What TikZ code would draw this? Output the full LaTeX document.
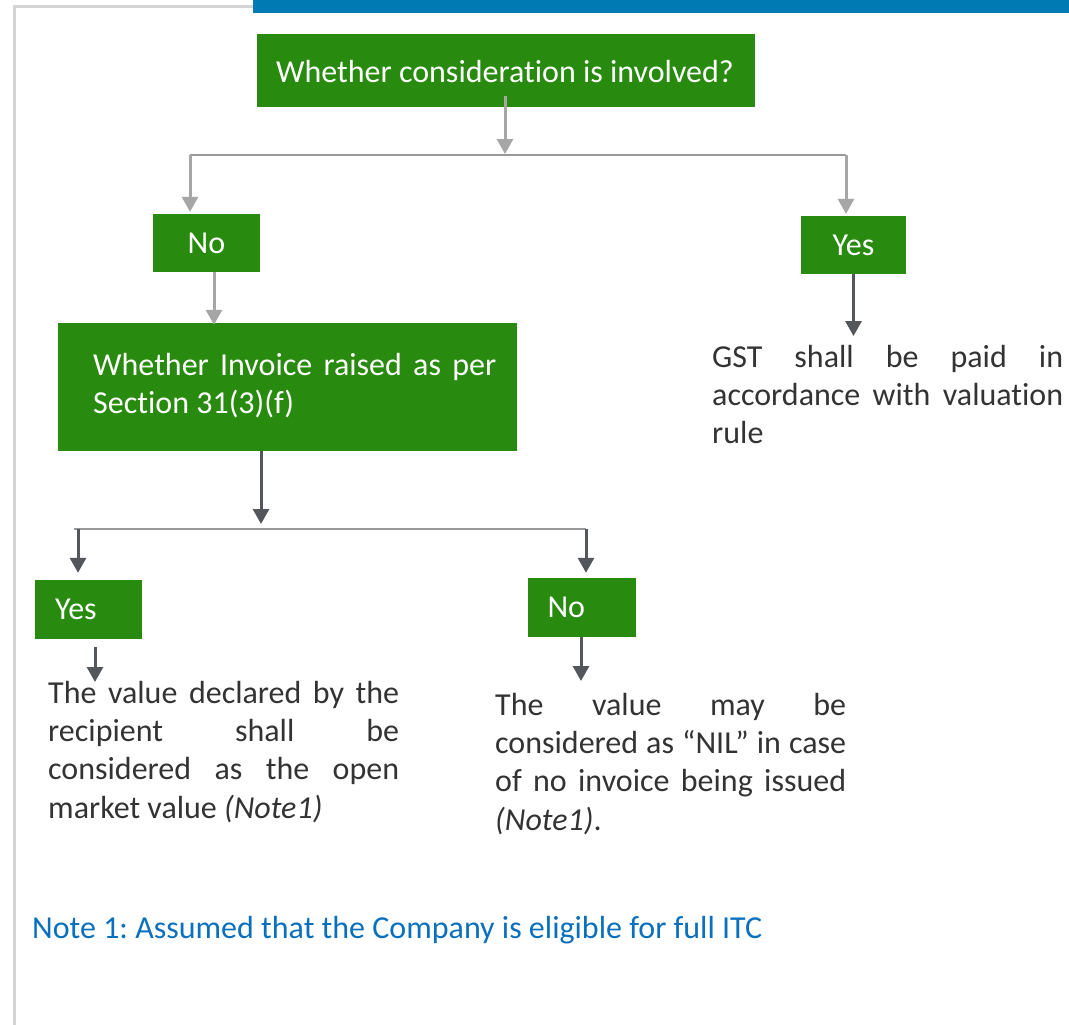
\documentclass[tikz,border=0pt]{standalone}
\usepackage{fontspec}
\setmainfont{Carlito}[Ligatures=NoCommon]
\usetikzlibrary{arrows.meta}

\definecolor{boxgreen}{HTML}{288A0F}
\definecolor{barblue}{HTML}{007AB3}
\definecolor{noteblue}{HTML}{0A70BE}
\definecolor{framegray}{HTML}{D4D4D4}
\definecolor{lightarrow}{HTML}{A6A6A6}
\definecolor{branchgray}{HTML}{999999}
\definecolor{darkarrow}{HTML}{53565A}
\definecolor{bodytext}{HTML}{333333}

% justified paragraph whose anchor "base" is the first baseline
\newcommand{\flowpara}[2]{\parbox[t]{#1}{\hyphenpenalty=10000\exhyphenpenalty=10000\tolerance=10000\emergencystretch=20pt #2}}

\begin{document}
\frenchspacing
\begin{tikzpicture}[x=1pt,y=-1pt,
  basefont/.style={font=\fontsize{32}{38.4}\selectfont},
  box/.style={fill=boxgreen, text=white, inner sep=0pt, basefont},
  bodypara/.style={text=bodytext, inner sep=0pt, anchor=base west, basefont},
  lightflow/.style={draw=lightarrow, line width=3pt, -{Triangle[width=16pt,length=15pt]}},
  darkflow/.style={draw=darkarrow, line width=3pt, -{Triangle[width=16pt,length=15pt]}},
  branch/.style={draw=branchgray, line width=2pt},
]
\useasboundingbox (0,0) rectangle (1069,1025);

% page frame and header bar
\fill[barblue] (253,0) rectangle (1069,13);
\draw[framegray, line width=3pt] (14.5,1025) -- (14.5,6.5) -- (253,6.5);

% first decision
\node[box, minimum width=498pt, minimum height=73pt] (q1) at (506,70.5) {};
\node[text=white, inner sep=0pt, anchor=base, basefont] (q1t) at (505,82)
  {Whether consideration is involved?};

\coordinate (j1)  at (505,155);
\coordinate (j1l) at (190,155);
\coordinate (j1r) at (846,155);
\draw[branch] (j1l) -- (j1r);

\node[box, minimum width=107pt, minimum height=58pt] (no1) at (206.5,243) {No};
\node[box, minimum width=105pt, minimum height=58pt] (yes1) at (853.5,245) {Yes};

\draw[lightflow] ([yshift=11pt]q1.south -| j1) -- ([yshift=1pt]j1);
\draw[lightflow] (j1l) -- ([yshift=2pt]no1.north -| j1l);
\draw[lightflow] (j1r) -- ([yshift=2pt]yes1.north -| j1r);

% second decision
\node[box, minimum width=459pt, minimum height=128pt] (q2) at (287.5,387) {};
\node[text=white, inner sep=0pt, anchor=base west, basefont] (q2t) at (93,375)
  {\flowpara{403pt}{Whether Invoice raised as per\linebreak Section 31(3)(f)}};

\draw[lightflow] ([xshift=7.5pt]no1.south) -- ([xshift=7.5pt,yshift=-2pt]no1.south |- q2.north);

\coordinate (j2)  at (261,529);
\coordinate (j2l) at (74,529);
\coordinate (j2a) at (78,529);
\coordinate (j2r) at (586,529);
\draw[branch] (j2l) -- (j2r);
\draw[darkflow] (q2.south -| j2) -- ([yshift=5pt]j2);

\node[box, minimum width=107pt, minimum height=59pt, text width=67pt, inner xsep=20pt, align=left]
  (yes2) at (88.5,609.5) {Yes};
\node[box, minimum width=107pt, minimum height=59pt, text width=68pt, inner xsep=20pt, align=left]
  (no2) at (581.5,607.5) {No};

\draw[darkflow] (j2a) -- ([yshift=7pt]yes2.north -| j2a);
\draw[darkflow] (j2r) -- ([yshift=5pt]no2.north -| j2r);

% outcomes
\node[bodypara] (gst) at (712,367)
  {\flowpara{351pt}{GST shall be paid in\linebreak accordance with valuation\linebreak rule}};
\node[bodypara] (omv) at (48,703)
  {\flowpara{351pt}{The value declared by the\linebreak recipient shall be\linebreak considered as the open\linebreak market value \textit{(Note1)}}};
\node[bodypara] (nil) at (495,715)
  {\flowpara{351pt}{The value may be\linebreak considered as “NIL” in case\linebreak of no invoice being issued\linebreak \textit{(Note1)}.}};

\draw[darkflow] (yes1.south) -- ([yshift=31pt]gst.base -| yes1.south);
\draw[darkflow] ([xshift=6.5pt,yshift=-8pt]yes2.south) -- ([xshift=6.5pt,yshift=21pt]omv.base -| yes2.south);
\draw[darkflow] ([xshift=-0.5pt]no2.south) -- ([xshift=-0.5pt,yshift=34pt]nil.base -| no2.south);

% footnote
\node[text=noteblue, inner sep=0pt, anchor=base west, basefont] (note) at (32,938)
  {Note 1: Assumed that the Company is eligible for full ITC};
\end{tikzpicture}
\end{document}
